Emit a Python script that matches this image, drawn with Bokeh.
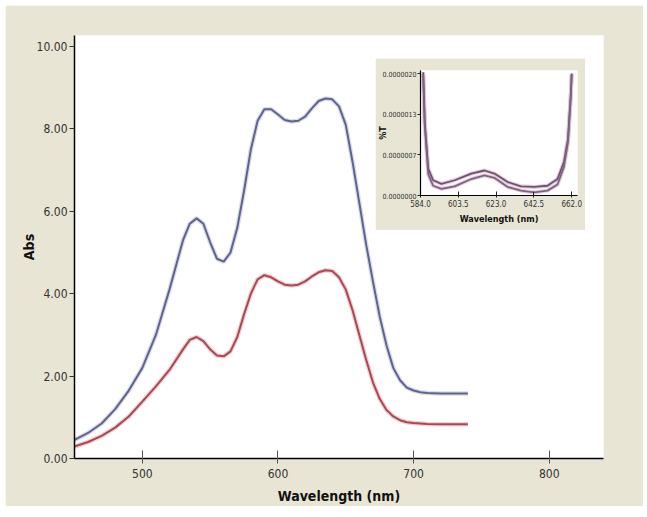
from bokeh.plotting import figure
from bokeh.models import FixedTicker, NumeralTickFormatter, ColumnDataSource, Range1d
from bokeh.embed import file_html
from bokeh.resources import INLINE

# ---------------- data ----------------
wavelength = [450, 460, 470, 480, 490, 500, 510, 520, 530, 535, 540, 545, 550, 555, 560,
              565, 570, 575, 580, 585, 590, 595, 600, 605, 610, 615, 620, 625, 630, 635,
              640, 645, 650, 655, 660, 665, 670, 675, 680, 685, 690, 695, 700, 705, 710,
              720, 730, 740]
abs_blue = [0.45, 0.62, 0.85, 1.2, 1.65, 2.2, 3.0, 4.1, 5.3, 5.7, 5.83, 5.7, 5.25, 4.85, 4.78,
            5.0, 5.6, 6.5, 7.5, 8.2, 8.48, 8.48, 8.35, 8.22, 8.18, 8.2, 8.3, 8.5, 8.68, 8.74,
            8.72, 8.55, 8.1, 7.2, 6.2, 5.2, 4.3, 3.45, 2.75, 2.2, 1.9, 1.72, 1.65, 1.61, 1.59,
            1.58, 1.58, 1.58]
abs_red = [0.29, 0.4, 0.55, 0.75, 1.02, 1.38, 1.75, 2.15, 2.65, 2.88, 2.95, 2.85, 2.65, 2.5, 2.48,
           2.6, 2.95, 3.5, 4.0, 4.35, 4.45, 4.4, 4.3, 4.22, 4.2, 4.22, 4.3, 4.42, 4.52, 4.57,
           4.55, 4.4, 4.1, 3.6, 3.0, 2.4, 1.85, 1.45, 1.18, 1.02, 0.93, 0.88, 0.86, 0.85, 0.84,
           0.83, 0.83, 0.83]

abs_ticks = [0, 2, 4, 6, 8, 10]
wl_ticks = [500, 600, 700, 800]

inset_wl = [585.4, 586.2, 588.0, 590.5, 594.8, 601.6, 610.2, 617.0, 622.1, 629.0, 635.8,
            642.6, 649.5, 654.7, 658.0, 660.1, 661.5, 662.0]
inset_upper = [2.02e-6, 1.20e-6, 0.44e-6, 0.25e-6, 0.19e-6, 0.25e-6, 0.36e-6, 0.41e-6, 0.36e-6,
               0.22e-6, 0.15e-6, 0.14e-6, 0.16e-6, 0.27e-6, 0.55e-6, 0.93e-6, 1.64e-6, 2.0e-6]
inset_lower = [1.98e-6, 1.15e-6, 0.35e-6, 0.16e-6, 0.11e-6, 0.15e-6, 0.27e-6, 0.33e-6, 0.29e-6,
               0.14e-6, 0.08e-6, 0.05e-6, 0.08e-6, 0.18e-6, 0.47e-6, 0.88e-6, 1.60e-6, 1.98e-6]
inset_y_ticks = [0.0, 2e-6 / 3, 4e-6 / 3, 2e-6]
inset_x_ticks = [584.0, 603.5, 623.0, 642.5, 662.0]

BEIGE = "#e8e5d4"
FONT = "'DejaVu Sans Condensed', 'Liberation Sans', sans-serif"

main_src = ColumnDataSource(dict(x=wavelength, blue=abs_blue, red=abs_red))
inset_src = ColumnDataSource(dict(x=inset_wl, up=inset_upper, lo=inset_lower))

# ---------------- main plot ----------------
p = figure(width=638, height=501, output_backend="svg", toolbar_location=None,
           x_range=Range1d(450, 840), y_range=Range1d(0, 10.27),
           min_border_left=69, min_border_right=40, min_border_top=30, min_border_bottom=48,
           background_fill_color="white", border_fill_color=BEIGE, outline_line_color=None,
           styles={"position": "absolute", "left": "5px", "top": "5px"})
p.grid.visible = False

p.line("x", "blue", source=main_src, line_color="#c2c4dc", line_width=4.5, line_alpha=0.6)
p.line("x", "red", source=main_src, line_color="#e8b0b6", line_width=4.5, line_alpha=0.6)
p.line("x", "blue", source=main_src, line_color="#5f6390", line_width=2)
p.line("x", "red", source=main_src, line_color="#ab4856", line_width=2)

p.xaxis.ticker = FixedTicker(ticks=wl_ticks)
p.yaxis.ticker = FixedTicker(ticks=abs_ticks)
p.yaxis.formatter = NumeralTickFormatter(format="0.00")
p.xaxis.axis_label = "Wavelength (nm)"
p.yaxis.axis_label = "Abs"
for ax in (p.xaxis, p.yaxis):
    ax.minor_tick_line_color = None
    ax.axis_line_color = "black"
    ax.axis_line_width = 1.5
    ax.major_label_text_font = FONT
    ax.major_label_text_font_size = "12px"
    ax.major_label_text_color = "#333333"
    ax.axis_label_text_font = FONT
    ax.axis_label_text_font_style = "bold"
    ax.axis_label_text_color = "#111111"
p.xaxis.major_tick_in = 8
p.xaxis.major_tick_out = 5
p.xaxis.major_tick_line_color = "#555555"
p.xaxis.major_label_standoff = 5
p.xaxis.axis_label_text_font_size = "14px"
p.xaxis.axis_label_standoff = 7
p.yaxis.major_tick_in = 0
p.yaxis.major_tick_out = 5
p.yaxis.major_tick_line_color = "#333333"
p.yaxis.major_label_standoff = 2
p.yaxis.axis_label_text_font_size = "14px"
p.yaxis.axis_label_standoff = -3

# ---------------- inset ----------------
q = figure(width=210, height=172, output_backend="svg", toolbar_location=None,
           x_range=Range1d(584, 665), y_range=Range1d(0, 2.05e-6),
           min_border_left=44, min_border_right=8, min_border_top=12, min_border_bottom=35,
           background_fill_color="white", border_fill_color=BEIGE, outline_line_color=None,
           styles={"position": "absolute", "left": "375px", "top": "58px", "z-index": "5"})
q.grid.visible = False
q.line("x", "up", source=inset_src, line_color="#dcb8cc", line_width=4, line_alpha=0.7)
q.line("x", "lo", source=inset_src, line_color="#dcb8cc", line_width=4, line_alpha=0.7)
q.line("x", "up", source=inset_src, line_color="#6e5272", line_width=1.8)
q.line("x", "lo", source=inset_src, line_color="#7e6284", line_width=1.8)
q.xaxis.ticker = FixedTicker(ticks=inset_x_ticks)
q.xaxis.formatter = NumeralTickFormatter(format="0.0")
q.yaxis.ticker = FixedTicker(ticks=inset_y_ticks)
q.yaxis.formatter = NumeralTickFormatter(format="0.0000000")
q.xaxis.axis_label = "Wavelength (nm)"
q.yaxis.axis_label = "%T"
for ax in (q.xaxis, q.yaxis):
    ax.minor_tick_line_color = None
    ax.axis_line_color = "black"
    ax.axis_line_width = 1.2
    ax.major_tick_line_color = "#222222"
    ax.major_label_text_font = FONT
    ax.major_label_text_color = "#333333"
    ax.axis_label_text_font = FONT
    ax.axis_label_text_font_style = "bold"
    ax.axis_label_text_font_size = "9px"
    ax.axis_label_text_color = "#111111"
    ax.major_label_standoff = 2
q.xaxis.major_label_text_font_size = "8px"
q.yaxis.major_label_text_font_size = "7px"
q.yaxis.major_label_standoff = 1
q.xaxis.axis_label_standoff = 4
q.yaxis.axis_label_standoff = -9
q.xaxis.major_tick_in = 4
q.xaxis.major_tick_out = 2
q.yaxis.major_tick_in = 0
q.yaxis.major_tick_out = 3

open("out.html", "w").write(file_html([p, q], INLINE))
